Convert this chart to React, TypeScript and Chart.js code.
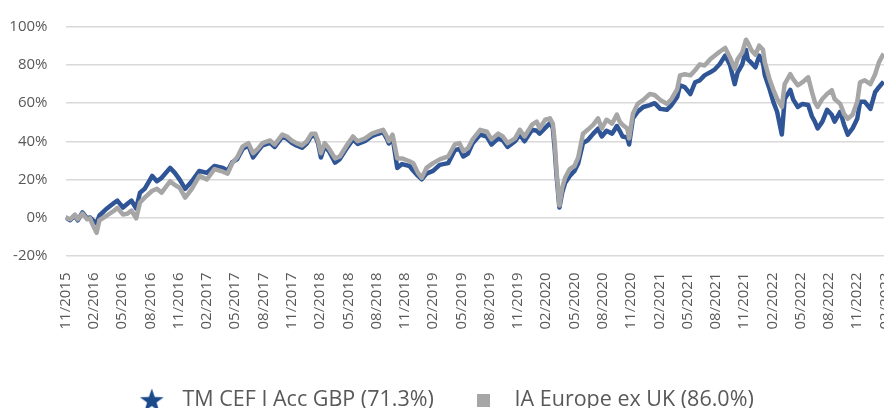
import { useEffect, useRef } from "react";
import { Chart, registerables } from "chart.js";

Chart.register(...registerables);

// x positions: months elapsed since 1 Nov 2015
const months = [
  0, 0.5, 1.0, 1.3, 1.8, 2.3, 2.6, 2.9, 3.3, 3.6,
  4.4, 5.2, 5.5, 6.1, 6.6, 7.0, 7.5, 7.9, 8.4, 9.2,
  9.7, 10.2, 11.1, 11.6, 12.1, 12.7, 13.4, 14.2, 15.0, 15.8,
  16.7, 17.2, 17.7, 18.2, 18.8, 19.4, 19.9, 20.4, 20.9, 21.7,
  22.2, 23.0, 23.5, 24.0, 24.5, 25.1, 25.6, 26.1, 26.5, 26.8,
  27.1, 27.5, 28.0, 28.6, 29.1, 29.9, 30.5, 31.0, 31.8, 32.5,
  33.1, 33.7, 34.1, 34.3, 34.7, 35.2, 35.7, 36.5, 36.9, 37.4,
  37.8, 38.3, 39.0, 39.7, 40.6, 41.3, 41.8, 42.2, 42.7, 43.2,
  44.0, 44.7, 45.2, 45.9, 46.4, 46.9, 47.7, 48.2, 48.7, 49.5,
  50.0, 50.3, 50.9, 51.4, 51.7, 51.9, 52.1, 52.4, 52.7, 53.0,
  53.5, 54.0, 54.4, 54.9, 55.4, 56.0, 56.5, 56.9, 57.4, 58.0,
  58.5, 58.8, 59.1, 59.6, 59.8, 60.2, 60.7, 61.3, 62.0, 62.5,
  63.1, 63.8, 64.3, 64.9, 65.2, 65.7, 66.3, 66.8, 67.3, 67.8,
  68.4, 68.9, 69.4, 70.0, 70.5, 71.0, 71.3, 71.8, 72.2, 72.4,
  72.8, 73.2, 73.6, 74.0, 74.2, 74.7, 75.1, 75.5, 76.0, 76.3,
  76.9, 77.2, 77.7, 78.2, 78.8, 79.2, 79.5, 79.8, 80.3, 80.8,
  81.3, 81.6, 82.2, 82.6, 83.0, 83.5, 84.0, 84.3, 84.8, 85.4,
  85.9, 86.3, 86.8,
];

// TM CEF I Acc GBP cumulative return (%)
const fundReturns = [
  0, -1.5, 1, -1.5, 2.6, -0.5, 0, -1.5, -3, 1,
  4.7, 7.8, 8.8, 5.2, 7.3, 8.8, 4.7, 13, 15, 21.8,
  19, 20.8, 26, 23.4, 20, 15, 19, 24.4, 23.4, 27,
  26, 24.5, 29, 30.5, 36, 37.8, 31.5, 34.8, 37.8, 39.2,
  37, 42.3, 41.3, 39.2, 37.8, 36.6, 38.8, 42.8, 42.8, 38.8,
  31.5, 37.6, 34.4, 28.8, 30.6, 36.8, 41, 38.6, 40.2, 42.7,
  43.8, 44.8, 41.3, 38.8, 42.2, 26, 28, 27, 24.5, 21.8,
  20, 23, 24.4, 27.6, 28.5, 35.3, 36, 32, 33.5, 39,
  43.5, 42.5, 38.3, 41.5, 40.5, 37, 40, 43.5, 40, 46,
  45.5, 44, 47, 49.5, 47, 36, 22, 5.2, 13, 18,
  21.8, 24.4, 28.5, 39, 40.5, 44, 46.6, 42.5, 45.5, 44,
  48, 45.5, 42.5, 42, 38.3, 52, 55.5, 58, 59, 60,
  57, 56.5, 59, 63.3, 69.4, 68.4, 64.8, 71, 72, 74.6,
  76.2, 77.8, 80.4, 85, 80, 70, 76, 80.4, 88, 83,
  81, 78.8, 85, 81, 74.6, 67.4, 60.7, 55.5, 43.5, 62.2,
  67, 62, 58, 59.6, 59, 53, 50.3, 46.7, 50.3, 56.5,
  53.9, 50.3, 55.5, 48.7, 43.5, 46.7, 51.8, 60.7, 60.7, 57,
  65.8, 68.4, 71.3,
];

// IA Europe ex UK cumulative return (%)
const sectorReturns = [
  0, -1, 1.5, -1, 2, -1, -0.5, -4, -8, -1.5,
  1, 3.7, 5, 1.5, 2, 3.6, -0.5, 7.8, 10.4, 14,
  15, 13, 19, 17, 15.6, 10.4, 15, 21.8, 20, 25.4,
  24, 23, 28.5, 31.5, 37.3, 39, 33.7, 36, 39, 40.4,
  38.3, 43.5, 42.5, 40.4, 39, 37.8, 40, 44, 44, 40,
  33.7, 39, 35.8, 31, 32, 38.3, 42.5, 40, 41.5, 44,
  45, 46, 42.5, 40, 43.5, 31, 31, 29.5, 28.5, 23.4,
  20.8, 26, 28.5, 30.5, 32, 38.3, 39, 34.8, 36.3, 41,
  46, 45, 41, 44, 42.5, 39, 41.5, 46, 42.5, 48.7,
  50.3, 46.7, 51.3, 52, 49.3, 40, 24.4, 6.2, 15.6, 20.8,
  25.4, 27, 31.5, 44, 46, 48.7, 52, 46.7, 51.3, 49.3,
  54, 50.3, 48.7, 46.7, 41.5, 54.4, 59.6, 61.7, 64.8, 64.3,
  61.7, 59.6, 62.2, 67.4, 74.6, 75.2, 74.6, 77.3, 80.4, 79.8,
  83, 85, 87, 89, 84, 78, 83, 86.6, 93.3, 91.7,
  87.6, 85.5, 90.2, 88, 81.4, 72.6, 67, 62.2, 58, 70,
  75.2, 72.6, 69.4, 71, 73.6, 65.8, 60.7, 58, 62.2, 64.8,
  66.8, 62.2, 59.6, 54.4, 51.8, 53.9, 60.7, 71, 72, 70,
  75.2, 81.4, 86,
];

const tickLabels = [
  "11/2015", "02/2016", "05/2016", "08/2016", "11/2016", "02/2017",
  "05/2017", "08/2017", "11/2017", "02/2018", "05/2018", "08/2018",
  "11/2018", "02/2019", "05/2019", "08/2019", "11/2019", "02/2020",
  "05/2020", "08/2020", "11/2020", "02/2021", "05/2021", "08/2021",
  "11/2021", "02/2022", "05/2022", "08/2022", "11/2022", "02/2023",
];

const seriesNames = ["TM CEF I Acc GBP (71.3%)", "IA Europe ex UK (86.0%)"];

const FONT = "'Open Sans', 'Noto Sans', sans-serif";
const TEXT = "#595959";
const BLUE = "#2F5597";
const STAR = "#1B4A8A";
const GREY = "#A6A6A6";

function makeStar(): HTMLCanvasElement {
  const c = document.createElement("canvas");
  c.width = 26;
  c.height = 26;
  const ctx = c.getContext("2d")!;
  ctx.fillStyle = STAR;
  ctx.beginPath();
  const cx = 13, cy = 13.8, R = 12.5, r = 5;
  for (let i = 0; i < 10; i++) {
    const a = -Math.PI / 2 + (i * Math.PI) / 5;
    const rad = i % 2 === 0 ? R : r;
    const px = cx + rad * Math.cos(a);
    const py = cy + rad * Math.sin(a);
    if (i === 0) ctx.moveTo(px, py);
    else ctx.lineTo(px, py);
  }
  ctx.closePath();
  ctx.fill();
  return c;
}

function makeSquare(): HTMLCanvasElement {
  const c = document.createElement("canvas");
  c.width = 13;
  c.height = 13;
  const ctx = c.getContext("2d")!;
  ctx.fillStyle = GREY;
  ctx.fillRect(0, 0, 13, 13);
  return c;
}

export default function App() {
  const ref = useRef<HTMLCanvasElement | null>(null);

  useEffect(() => {
    if (!ref.current) return;
    const star = makeStar();
    const square = makeSquare();
    const chart = new Chart(ref.current, {
      type: "line",
      data: {
        datasets: [
          {
            label: seriesNames[0],
            data: months.map((m, i) => ({ x: m, y: fundReturns[i] })),
            borderColor: BLUE,
            backgroundColor: BLUE,
            borderWidth: 4.5,
            pointRadius: 0,
            pointStyle: star as any,
            tension: 0,
            borderJoinStyle: "round",
            order: 1,
          },
          {
            label: seriesNames[1],
            data: months.map((m, i) => ({ x: m, y: sectorReturns[i] })),
            borderColor: GREY,
            backgroundColor: GREY,
            borderWidth: 4.5,
            pointRadius: 0,
            pointStyle: square as any,
            tension: 0,
            borderJoinStyle: "round",
            order: 0,
          },
        ],
      },
      options: {
        responsive: false,
        animation: false,
        events: [],
        layout: { padding: { top: 24, left: 0, right: 40.5, bottom: 0 } },
        scales: {
          x: {
            type: "linear",
            min: 0,
            max: 87,
            grid: { display: false, drawTicks: false },
            border: { display: false },
            afterFit: (scale: any) => {
              scale.height = 104;
            },
            afterBuildTicks: (scale: any) => {
              scale.ticks = tickLabels.map((_, i) => ({ value: i * 3 }));
            },
            ticks: {
              autoSkip: false,
              maxRotation: 90,
              minRotation: 90,
              padding: 17,
              color: TEXT,
              font: { family: FONT, size: 15 },
              callback: (v: any) => tickLabels[Math.round(Number(v) / 3)] ?? "",
            },
          },
          y: {
            min: -20,
            max: 100,
            grid: { color: "#D9D9D9", lineWidth: 1.5, drawTicks: false },
            border: { display: false },
            afterFit: (scale: any) => {
              scale.width = 65.5;
            },
            ticks: {
              stepSize: 20,
              padding: 18,
              color: TEXT,
              font: { family: FONT, size: 15 },
              callback: (v: any) => `${v}%`,
            },
          },
        },
        plugins: {
          tooltip: { enabled: false },
          legend: {
            position: "bottom",
            labels: {
              usePointStyle: true,
              pointStyleWidth: 40,
              padding: 30,
              color: TEXT,
              font: { family: FONT, size: 21.5 },
              sort: (a: any, b: any) => a.datasetIndex - b.datasetIndex,
            },
          },
        },
      },
    });
    return () => chart.destroy();
  }, []);

  return (
    <div
      style={{
        position: "fixed",
        left: 0,
        top: 0,
        width: 884,
        height: 408,
        overflow: "hidden",
        background: "#ffffff",
      }}
    >
      <canvas
        ref={ref}
        width={926}
        height={421}
        style={{ position: "absolute", left: 0, top: 0, width: 926, height: 421 }}
      />
    </div>
  );
}
